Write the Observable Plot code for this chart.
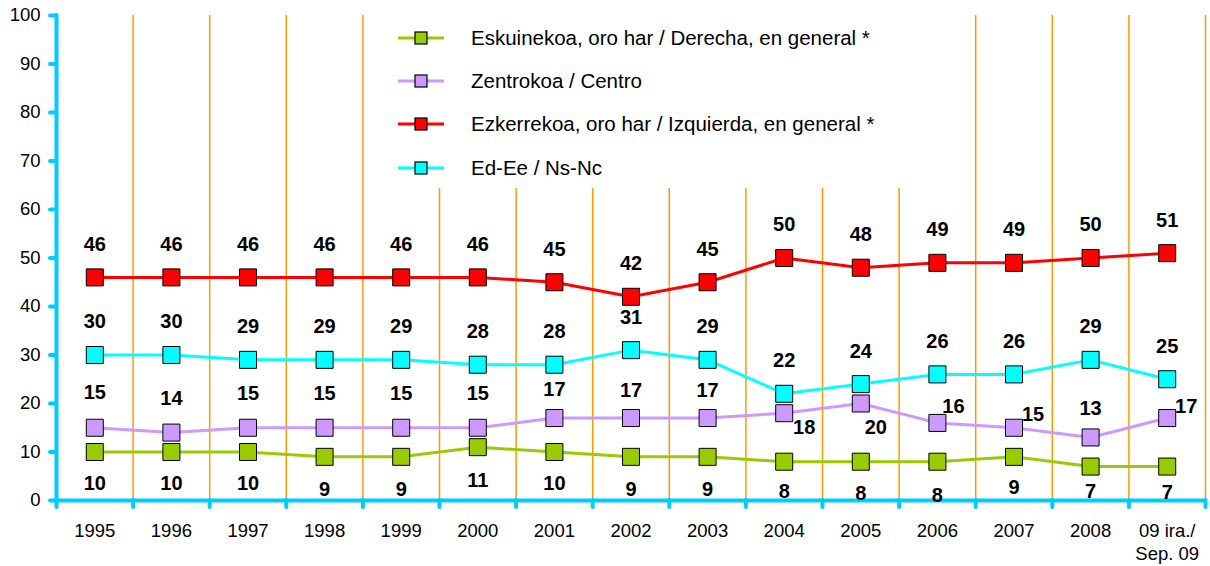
<!DOCTYPE html>
<html>
<head>
<meta charset="utf-8">
<script src="https://cdn.jsdelivr.net/npm/d3@7"></script>
<script src="https://cdn.jsdelivr.net/npm/@observablehq/plot@0.6"></script>
<style>
  html, body { margin: 0; padding: 0; background: #fff; }
  #wrap { position: relative; width: 1210px; height: 566px; font-family: "Liberation Sans", Arial, sans-serif; }
  #legend { position: absolute; left: 395px; top: 15px; width: 505px; height: 173px; background: #fff; }
  .row { position: absolute; left: 0; height: 20px; display: flex; align-items: center; font-size: 20.5px; color: #000; white-space: nowrap; }
  .row svg { margin-left: 3px; margin-right: 27px; }
</style>
</head>
<body>
<div id="wrap"><div id="legend"></div></div>
<script>
const categories = ["1995","1996","1997","1998","1999","2000","2001","2002","2003","2004","2005","2006","2007","2008","09 ira./\nSep. 09"];
const seriesNames = [
  "Eskuinekoa, oro har / Derecha, en general *",
  "Zentrokoa / Centro",
  "Ezkerrekoa, oro har / Izquierda, en general *",
  "Ed-Ee / Ns-Nc"
];
const seriesColors = ["#99CC00", "#CC99FF", "#FF0000", "#00FFFF"];
const derecha   = [10,10,10,9,9,11,10,9,9,8,8,8,9,7,7];
const centro    = [15,14,15,15,15,15,17,17,17,18,20,16,15,13,17];
const izquierda = [46,46,46,46,46,46,45,42,45,50,48,49,49,50,51];
const nsnc      = [30,30,29,29,29,28,28,31,29,22,24,26,26,29,25];
const values = [derecha, centro, izquierda, nsnc];

// label placement offsets (pixels)
const derechaDy = [32,32,32,33,33,33,32,33,33,30,32,34,31,25,26];
const centroDx  = [0,0,0,0,0,0,0,0,0,20,15,16,19,0,19];
const centroDy  = [-35,-34,-34,-34,-34,-34,-28,-27,-27,14,24,-16,-13,-29,-11];

const data = [];
values.forEach((vals, s) => vals.forEach((v, i) => data.push({s, i, v,
  dx: s === 1 ? centroDx[i] : 0,
  dy: s === 0 ? derechaDy[i] : s === 1 ? centroDy[i] : -33})));

const idx = categories.map((_, i) => i);
const boundaries = d3.range(-0.5, categories.length, 1);
const axisColor = "#00CCFF";

const chart = Plot.plot({
  width: 1210,
  height: 566,
  marginLeft: 56,
  marginRight: 5,
  marginTop: 15,
  marginBottom: 66,
  style: { fontFamily: "'Liberation Sans', Arial, sans-serif", fontSize: "18.5px", color: "#000", background: "#fff" },
  x: { type: "linear", domain: [-0.5, categories.length - 0.5] },
  y: { domain: [0, 100] },
  marks: [
    Plot.ruleX(boundaries.slice(1), { y1: 0, y2: 100, stroke: "#FF9900", strokeWidth: 1.5 }),
    Plot.axisY({ ticks: d3.range(0, 101, 10), tickSize: 6, tickPadding: 10, stroke: axisColor, strokeWidth: 4, strokeLinecap: "round", fill: "#000", fontSize: 18.5, label: null }),
    Plot.axisX({ ticks: boundaries, tickSize: 7, tickFormat: () => "", stroke: axisColor, strokeWidth: 4, strokeLinecap: "round", label: null }),
    Plot.axisX({ ticks: idx, tickSize: 0, tickPadding: 20, tickFormat: i => categories[i], fill: "#000", fontSize: 18.5, lineHeight: 1.25, label: null }),
    Plot.ruleX([-0.5], { y1: 0, y2: 100, stroke: axisColor, strokeWidth: 4, strokeLinecap: "round" }),
    Plot.ruleY([0], { x1: -0.5, x2: categories.length - 0.5, stroke: axisColor, strokeWidth: 4, strokeLinecap: "round" }),
    Plot.line(data, { x: "i", y: "v", z: "s", stroke: d => seriesColors[d.s], strokeWidth: 3 }),
    Plot.dot(data, { x: "i", y: "v", symbol: "square", r: 9.6, fill: d => seriesColors[d.s], stroke: "#000", strokeWidth: 1 }),
    ...[0,1,2,3].map(s => Plot.text(data.filter(d => d.s === s), {
      x: "i", y: "v", text: d => String(d.v),
      fontSize: 20, fontWeight: "bold", fill: "#000"
    }))
  ]
});
document.getElementById("wrap").prepend(chart);

// per-datum label offsets (pixel shifts)
const texts = chart.querySelectorAll("g[aria-label='text']");
texts.forEach((g, s) => {
  const pts = data.filter(d => d.s === s);
  g.querySelectorAll("text").forEach((t, k) => {
    const d = pts[k];
    const tr = t.getAttribute("transform") || "";
    t.setAttribute("transform", tr + ` translate(${d.dx},${d.dy})`);
  });
});

const legend = document.getElementById("legend");
const rowY = [13, 56, 99, 143];
[0, 1, 2, 3].forEach((s, k) => {
  const row = document.createElement("div");
  row.className = "row";
  row.style.top = rowY[k] + "px";
  row.innerHTML = `<svg width="46" height="20"><line x1="0" x2="46" y1="10" y2="10" stroke="${seriesColors[s]}" stroke-width="3"/><rect x="17" y="4" width="12" height="12" fill="${seriesColors[s]}" stroke="#000" stroke-width="1.2"/></svg><span>${seriesNames[s]}</span>`;
  legend.appendChild(row);
});
</script>
</body>
</html>
